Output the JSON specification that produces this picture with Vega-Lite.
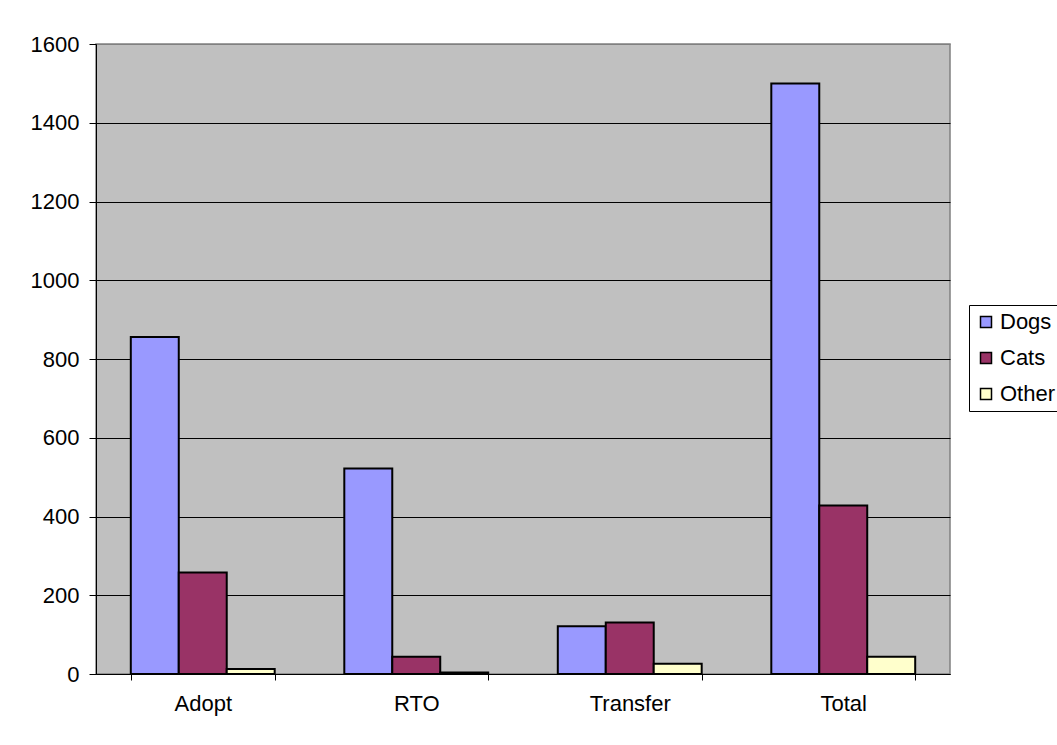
{
  "$schema": "https://vega.github.io/schema/vega-lite/v6.json",
  "autosize": {"type": "none"},
  "padding": {"left": 96, "top": 44, "right": 107, "bottom": 71},
  "width": 854,
  "height": 630,
  "background": "white",
  "data": {
    "values": [
      {"outcome": "Adopt", "animal": "Dogs", "count": 856},
      {"outcome": "Adopt", "animal": "Cats", "count": 258},
      {"outcome": "Adopt", "animal": "Other", "count": 13},
      {"outcome": "RTO", "animal": "Dogs", "count": 522},
      {"outcome": "RTO", "animal": "Cats", "count": 44},
      {"outcome": "RTO", "animal": "Other", "count": 4},
      {"outcome": "Transfer", "animal": "Dogs", "count": 121},
      {"outcome": "Transfer", "animal": "Cats", "count": 131},
      {"outcome": "Transfer", "animal": "Other", "count": 26},
      {"outcome": "Total", "animal": "Dogs", "count": 1500},
      {"outcome": "Total", "animal": "Cats", "count": 428},
      {"outcome": "Total", "animal": "Other", "count": 44}
    ]
  },
  "mark": {"type": "bar", "stroke": "black", "strokeWidth": 2},
  "encoding": {
    "x": {
      "field": "outcome",
      "type": "nominal",
      "sort": ["Adopt", "RTO", "Transfer", "Total"],
      "title": null,
      "scale": {"paddingInner": 0.326, "paddingOuter": 0.163},
      "axis": {
        "labelAngle": 0,
        "tickBand": "extent",
        "tickSize": 6,
        "labelPadding": 13,
        "domainColor": "black",
        "tickColor": "black"
      }
    },
    "xOffset": {
      "field": "animal",
      "type": "nominal",
      "sort": ["Dogs", "Cats", "Other"],
      "scale": {"paddingInner": 0, "paddingOuter": 0}
    },
    "y": {
      "field": "count",
      "type": "quantitative",
      "title": null,
      "scale": {"domain": [0, 1600], "nice": false},
      "axis": {
        "values": [0, 200, 400, 600, 800, 1000, 1200, 1400, 1600],
        "format": "d",
        "grid": true,
        "gridColor": {
          "condition": {"test": "datum.value === 1600", "value": "#808080"},
          "value": "black"
        },
        "gridOpacity": 1,
        "tickSize": 7,
        "labelPadding": 10,
        "domainColor": "black",
        "tickColor": "black"
      }
    },
    "color": {
      "field": "animal",
      "type": "nominal",
      "sort": ["Dogs", "Cats", "Other"],
      "scale": {"domain": ["Dogs", "Cats", "Other"], "range": ["#9999FF", "#993366", "#FFFFCC"]},
      "legend": {
        "title": null,
        "orient": "none",
        "legendX": 873,
        "legendY": 261,
        "symbolType": "square",
        "symbolSize": 121,
        "symbolStrokeColor": "black",
        "symbolStrokeWidth": 1.5,
        "labelOffset": 3,
        "rowPadding": 14,
        "padding": 6,
        "strokeColor": "black",
        "fillColor": "white"
      }
    }
  },
  "config": {
    "font": "Liberation Sans",
    "view": {"fill": "#C0C0C0", "stroke": "#808080", "strokeWidth": 1.5},
    "axis": {
      "labelFont": "Liberation Sans",
      "labelFontSize": 22,
      "labelColor": "black",
      "domainWidth": 1,
      "tickWidth": 1
    },
    "legend": {
      "labelFont": "Liberation Sans",
      "labelFontSize": 22,
      "labelColor": "black"
    }
  }
}
